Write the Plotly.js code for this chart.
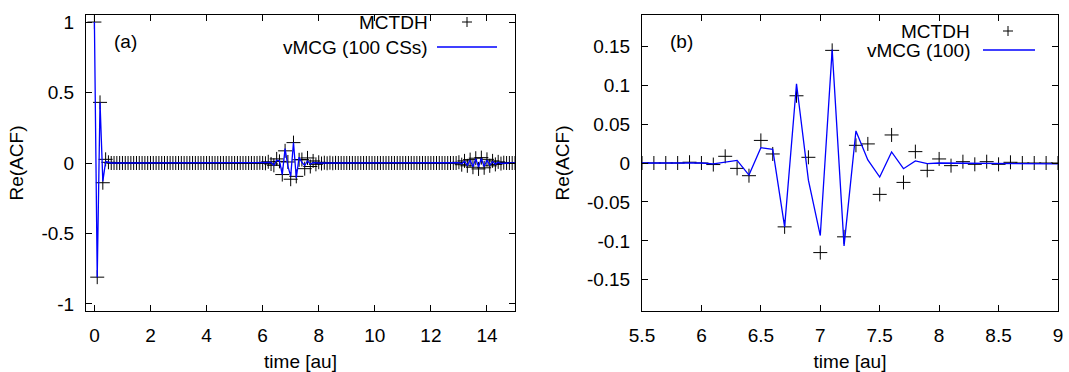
<!DOCTYPE html>
<html>
<head>
<meta charset="utf-8">
<script src="https://cdn.plot.ly/plotly-3.0.1.min.js"></script>
<style>html,body{margin:0;padding:0;background:#fff;}#chart{width:1069px;height:372px;}</style>
</head>
<body>
<div id="chart"></div>
<script>
// time grid [au], step 0.1 from 0 to 15
const time = [
 0.0,0.1,0.2,0.3,0.4,0.5,0.6,0.7,0.8,0.9,
 1.0,1.1,1.2,1.3,1.4,1.5,1.6,1.7,1.8,1.9,
 2.0,2.1,2.2,2.3,2.4,2.5,2.6,2.7,2.8,2.9,
 3.0,3.1,3.2,3.3,3.4,3.5,3.6,3.7,3.8,3.9,
 4.0,4.1,4.2,4.3,4.4,4.5,4.6,4.7,4.8,4.9,
 5.0,5.1,5.2,5.3,5.4,5.5,5.6,5.7,5.8,5.9,
 6.0,6.1,6.2,6.3,6.4,6.5,6.6,6.7,6.8,6.9,
 7.0,7.1,7.2,7.3,7.4,7.5,7.6,7.7,7.8,7.9,
 8.0,8.1,8.2,8.3,8.4,8.5,8.6,8.7,8.8,8.9,
 9.0,9.1,9.2,9.3,9.4,9.5,9.6,9.7,9.8,9.9,
 10.0,10.1,10.2,10.3,10.4,10.5,10.6,10.7,10.8,10.9,
 11.0,11.1,11.2,11.3,11.4,11.5,11.6,11.7,11.8,11.9,
 12.0,12.1,12.2,12.3,12.4,12.5,12.6,12.7,12.8,12.9,
 13.0,13.1,13.2,13.3,13.4,13.5,13.6,13.7,13.8,13.9,
 14.0,14.1,14.2,14.3,14.4,14.5,14.6,14.7,14.8,14.9,
 15.0
];
// Re(ACF) from MCTDH
const mctdh = [
 1.0,-0.81,0.43,-0.14,0.026,0.005,0,0,0,0,
 0,0,0,0,0,0,0,0,0,0,
 0,0,0,0,0,0,0,0,0,0,
 0,0,0,0,0,0,0,0,0,0,
 0,0,0,0,0,0,0,0,0,0,
 0,0,0,0,0,0,0,0,0,0.001,
 0,-0.002,0.0086,-0.0069,-0.0163,0.029,0.0116,-0.082,0.0863,0.0073,
 -0.115,0.1446,-0.0948,0.0227,0.0245,-0.0403,0.036,-0.0249,0.0146,-0.0094,
 0.0052,-0.0034,0.0017,-0.0017,0.0017,-0.0017,0.0009,0,0,0,
 0,0,0,0,0,0,0,0,0,0,
 0,0,0,0,0,0,0,0,0,0,
 0,0,0,0,0,0,0,0,0,0,
 0,0,0,0,0,0,0,0,0,0,
 0.005,-0.012,0.015,-0.02,0.024,-0.03,0.034,-0.042,0.038,-0.034,
 0.026,-0.02,0.015,-0.01,0.008,-0.004,0.002,0,0,0,
 0
];
// Re(ACF) from vMCG with 100 coherent states
const vmcg = [
 1.0,-0.81,0.43,-0.13,0.01,0.003,0,0,0,0,
 0,0,0,0,0,0,0,0,0,0,
 0,0,0,0,0,0,0,0,0,0,
 0,0,0,0,0,0,0,0,0,0,
 0,0,0,0,0,0,0,0,0,0,
 0,0,0,0,0,0,0,0,0,0,
 0,-0.001,0.001,0.0034,-0.0155,0.0197,0.0176,-0.082,0.1017,-0.022,
 -0.0931,0.1455,-0.1064,0.0412,0.0039,-0.018,0.0142,-0.0073,0.0026,-0.0009,
 0,0,0,0,0,0,0,0,0,0,
 0,0,0,0,0,0,0,0,0,0,
 0,0,0,0,0,0,0,0,0,0,
 0,0,0,0,0,0,0,0,0,0,
 0,0,0,0,0,0,0,0,0,0,
 0.002,-0.006,0.012,-0.016,0.02,-0.026,0.03,-0.028,0.032,-0.025,
 0.02,-0.015,0.01,-0.008,0.005,-0.002,0,0,0,0,
 0
];
// tick labels
const xTicksA = [0,2,4,6,8,10,12,14];
const xTickTextA = ["0","2","4","6","8","10","12","14"];
const yTicksA = [1,0.5,0,-0.5,-1];
const yTickTextA = ["1","0.5","0","-0.5","-1"];
const xTicksB = [5.5,6,6.5,7,7.5,8,8.5,9];
const xTickTextB = ["5.5","6","6.5","7","7.5","8","8.5","9"];
const yTicksB = [0.15,0.1,0.05,0,-0.05,-0.1,-0.15];
const yTickTextB = ["0.15","0.1","0.05","0","-0.05","-0.1","-0.15"];

const FONT = "Liberation Sans, Arial, Helvetica, sans-serif";
const FS = 19;
const W = 1069, H = 372;
const ML = 86, MR = 11, MT = 15, MB = 61;
const PW = W - ML - MR, PH = H - MT - MB;
const px = v => (v - ML) / PW;
const py = v => (H - MB - v) / PH;

function markerTrace(xa, ya) {
  return {x: time, y: mctdh, xaxis: xa, yaxis: ya, type: 'scatter', mode: 'markers',
    name: 'MCTDH', showlegend: false, cliponaxis: true,
    marker: {symbol: 'cross-thin-open', size: 10, color: '#000', line: {color: '#000', width: 1}}};
}
function lineTrace(xa, ya) {
  return {x: time, y: vmcg, xaxis: xa, yaxis: ya, type: 'scatter', mode: 'lines',
    name: 'vMCG', showlegend: false, line: {color: '#0000ff', width: 1.3}};
}

const axisCommon = {
  showgrid: false, zeroline: false, showline: true, linecolor: '#000', linewidth: 1,
  mirror: 'ticks', ticks: 'inside', ticklen: 6, tickcolor: '#000', tickwidth: 1,
  tickfont: {family: FONT, size: FS, color: '#000'}, automargin: false
};

const layout = {
  width: W, height: H,
  margin: {l: ML, r: MR, t: MT, b: MB, pad: 0},
  paper_bgcolor: '#fff', plot_bgcolor: '#fff',
  font: {family: FONT, size: FS, color: '#000'},
  showlegend: false,
  xaxis: Object.assign({}, axisCommon, {domain: [0, px(515)], range: [-0.3, 15], tickmode: 'array',
    tickvals: xTicksA, ticktext: xTickTextA, anchor: 'y', ticklabelstandoff: 7,
    title: {text: 'time [au]', font: {family: FONT, size: FS}, standoff: 10}}),
  yaxis: Object.assign({}, axisCommon, {domain: [0, 1], range: [-1.05, 1.05], tickmode: 'array',
    tickvals: yTicksA, ticktext: yTickTextA, anchor: 'x', ticklabelstandoff: 7,
    title: {text: 'Re(ACF)', font: {family: FONT, size: FS}, standoff: 12}}),
  xaxis2: Object.assign({}, axisCommon, {domain: [px(642), 1], range: [5.5, 9], tickmode: 'array',
    tickvals: xTicksB, ticktext: xTickTextB, anchor: 'y2', ticklabelstandoff: 7,
    title: {text: 'time [au]', font: {family: FONT, size: FS}, standoff: 10}}),
  yaxis2: Object.assign({}, axisCommon, {domain: [0, 1], range: [-0.19, 0.19], tickmode: 'array',
    tickvals: yTicksB, ticktext: yTickTextB, anchor: 'x2', ticklabelstandoff: 7,
    title: {text: 'Re(ACF)', font: {family: FONT, size: FS}, standoff: 12}}),
  annotations: [
    {text: '(a)', xref: 'paper', yref: 'paper', x: px(112), y: py(41), xanchor: 'left', yanchor: 'middle', showarrow: false, font: {family: FONT, size: FS}},
    {text: '(b)', xref: 'paper', yref: 'paper', x: px(668), y: py(41), xanchor: 'left', yanchor: 'middle', showarrow: false, font: {family: FONT, size: FS}},
    {text: 'MCTDH', xref: 'paper', yref: 'paper', x: px(430), y: py(22), xanchor: 'right', yanchor: 'middle', showarrow: false, font: {family: FONT, size: FS}},
    {text: 'vMCG (100 CSs)', xref: 'paper', yref: 'paper', x: px(430), y: py(47), xanchor: 'right', yanchor: 'middle', showarrow: false, font: {family: FONT, size: FS}},
    {text: 'MCTDH', xref: 'paper', yref: 'paper', x: px(972), y: py(31), xanchor: 'right', yanchor: 'middle', showarrow: false, font: {family: FONT, size: FS}},
    {text: 'vMCG (100)', xref: 'paper', yref: 'paper', x: px(972), y: py(51), xanchor: 'right', yanchor: 'middle', showarrow: false, font: {family: FONT, size: FS}}
  ],
  shapes: [
    // legend samples panel (a)
    {type: 'line', xref: 'paper', yref: 'paper', x0: px(462), x1: px(472), y0: py(22), y1: py(22), line: {color: '#000', width: 1}},
    {type: 'line', xref: 'paper', yref: 'paper', x0: px(467), x1: px(467), y0: py(17), y1: py(27), line: {color: '#000', width: 1}},
    {type: 'line', xref: 'paper', yref: 'paper', x0: px(437), x1: px(497), y0: py(47), y1: py(47), line: {color: '#0000ff', width: 1.3}},
    // legend samples panel (b)
    {type: 'line', xref: 'paper', yref: 'paper', x0: px(1003), x1: px(1013), y0: py(31), y1: py(31), line: {color: '#000', width: 1}},
    {type: 'line', xref: 'paper', yref: 'paper', x0: px(1008), x1: px(1008), y0: py(26), y1: py(36), line: {color: '#000', width: 1}},
    {type: 'line', xref: 'paper', yref: 'paper', x0: px(983), x1: px(1035), y0: py(50), y1: py(50), line: {color: '#0000ff', width: 1.3}}
  ]
};

Plotly.newPlot('chart', [markerTrace('x','y'), lineTrace('x','y'), markerTrace('x2','y2'), lineTrace('x2','y2')], layout, {staticPlot: true, displayModeBar: false});
</script>
</body>
</html>
